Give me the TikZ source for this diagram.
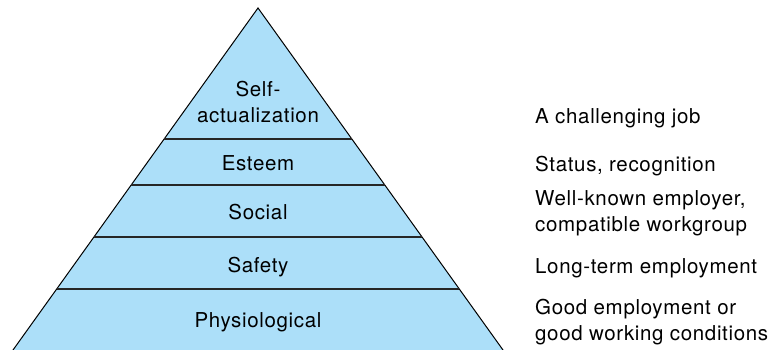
\documentclass[tikz,border=0pt]{standalone}
\usepackage{fontspec}
\setmainfont{TeX Gyre Heros}[LetterSpace=3.2]
\usetikzlibrary{calc}
\definecolor{pyrblue}{RGB}{172,223,249}

\begin{document}
\begin{tikzpicture}[x=1pt, y=-1pt,
    level/.style={font=\fontsize{20.5}{26}\selectfont, inner sep=0pt, anchor=base, align=center},
    job/.style={font=\fontsize{20.5}{26}\selectfont, inner sep=0pt, anchor=base west, align=left}]
    \useasboundingbox (0,0) rectangle (773,350);

    % Corners of the pyramid
    \coordinate (apex) at (258,8);
    \coordinate (bl) at (13,350);
    \coordinate (br) at (503,350);

    % Body of the pyramid
    \fill[pyrblue] (apex) -- (bl) -- (br) -- cycle;
    \draw[line width=1pt] (bl) -- (apex) -- (br);

    % Lines between the levels
    \foreach \y in {139, 185, 237, 289} {
        \pgfmathsetmacro\t{(\y-8)/342}
        \draw[line width=1.3pt, black!85] ($(apex)!\t!(bl)$) -- ($(apex)!\t!(br)$);
    }

    % Levels of the pyramid (base = last line)
    \node[level] (self) at (258,123) {Self-\\actualization};
    \node[level] (esteem) at (258,170) {Esteem};
    \node[level] (social) at (258,219) {Social};
    \node[level] (safety) at (258,272) {Safety};
    \node[level] (physio) at (258,327) {Physiological};

    % What the job gives at each level
    \node[job] (challenge) at (535,124) {A challenging job};
    \node[job] (status) at (535,171) {Status, recognition};
    \node[job] (employer) at (535,231) {Well-known employer,\\compatible workgroup};
    \node[job] (longterm) at (535,273) {Long-term employment};
    \node[job] (conditions) at (535,340) {Good employment or\\good working conditions};
\end{tikzpicture}
\end{document}
